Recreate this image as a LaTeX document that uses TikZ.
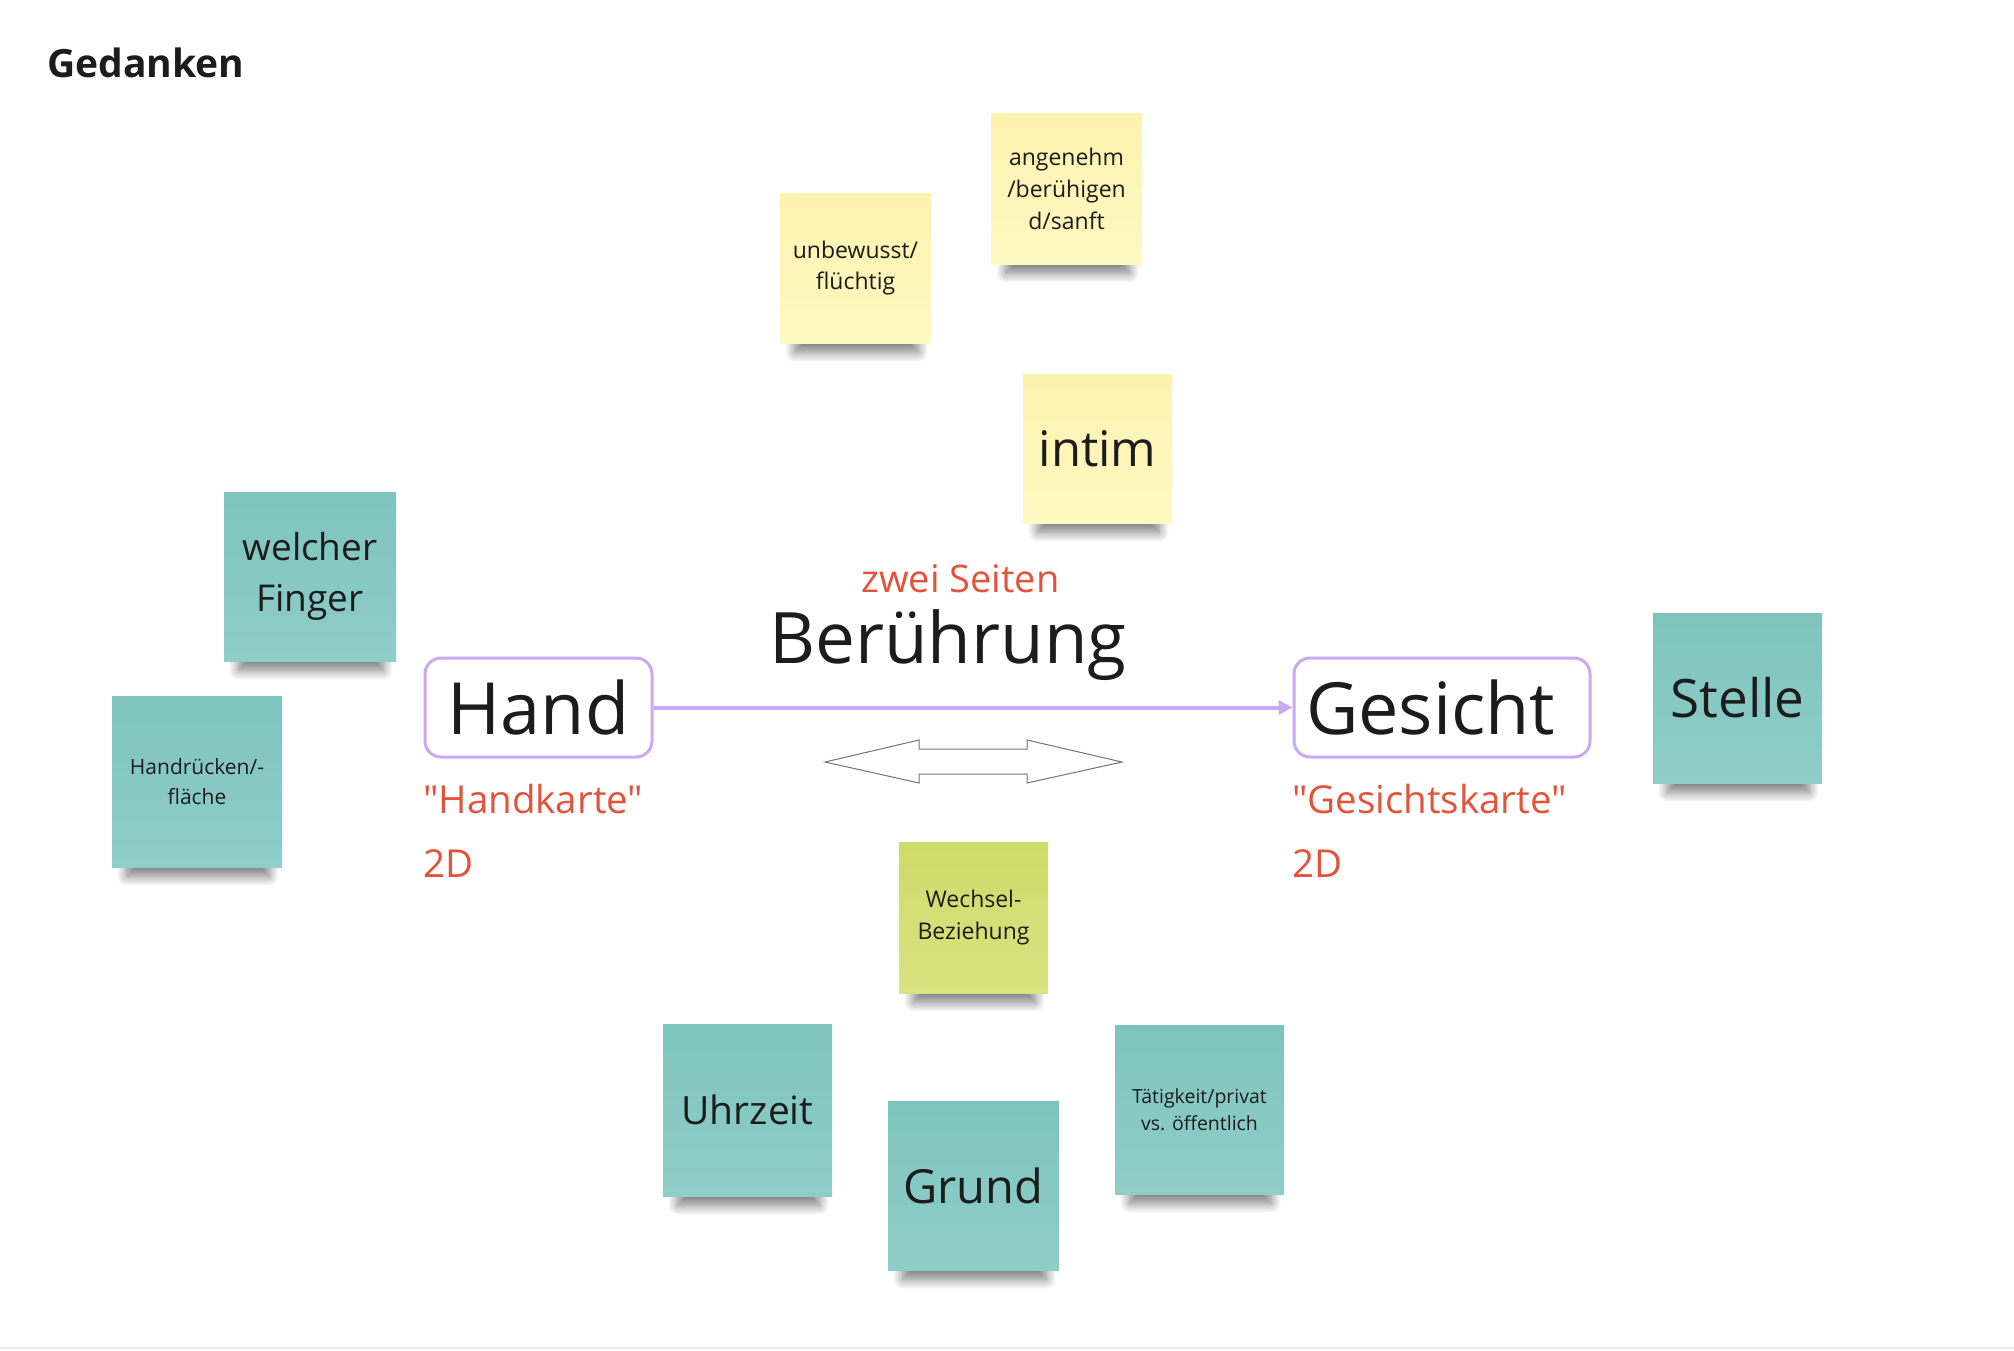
\documentclass[tikz,border=0pt]{standalone}
\usepackage{fontspec}
\defaultfontfeatures[\rmfamily]{}
\setmainfont{Open Sans}
\newfontfamily\nomap{Open Sans}
\usetikzlibrary{arrows.meta,shadows.blur}
\pgfdeclarelayer{bglayer}
\pgfdeclarelayer{shadowlayer}
\pgfsetlayers{bglayer,shadowlayer,main}
\definecolor{teal1}{HTML}{7EC4BD}
\definecolor{teal2}{HTML}{8FCDC8}
\definecolor{yel1}{HTML}{FCF3AE}
\definecolor{yel2}{HTML}{FEF8C2}
\definecolor{grn1}{HTML}{CDDB6A}
\definecolor{grn2}{HTML}{D7E480}
\definecolor{redtxt}{HTML}{E4523A}
\definecolor{lilac}{HTML}{C9A9F1}
\definecolor{ink}{HTML}{1C1C1C}
\newcommand\fsz[2]{\fontsize{#1}{#2}\selectfont}
\newcommand\notesh[1]{\path[shadowpath] ([xshift=15pt,yshift=-9pt]#1.south west) rectangle ([xshift=-13pt,yshift=40pt]#1.south east);}
\tikzset{
  note/.style={inner sep=0pt, align=center, text=ink},
  shadowpath/.style={blur shadow={shadow xshift=0pt, shadow yshift=0pt, shadow scale=1,
      shadow blur radius=10pt, shadow blur steps=14, shadow opacity=52}},
  tealnote/.style={note, top color=teal1, bottom color=teal2},
  yelnote/.style={note, top color=yel1, bottom color=yel2},
  grnnote/.style={note, top color=grn1, bottom color=grn2},
  mainbox/.style={draw=lilac, line width=3pt, rounded corners=16pt, fill=white,
    inner sep=0pt, text=ink, font=\fsz{72}{90}},
  redlabel/.style={anchor=base west, inner sep=0pt, text=redtxt, font=\nomap\fsz{38.5}{50}},
  conn/.style={draw=lilac, line width=4pt, -{Triangle[length=14pt,width=14pt]}},
}
\begin{document}
\begin{tikzpicture}[x=1pt,y=-1pt]
\begin{pgfonlayer}{bglayer}
\fill[white] (0,0) rectangle (2014,1350);
\end{pgfonlayer}
\useasboundingbox (0,0) rectangle (2014,1350);
\draw[draw=black!7, line width=2pt] (0,1348) -- (2014,1348);

\node[anchor=base west, inner sep=0pt, text=ink, font=\bfseries\fsz{39}{46}] (title) at (47,77) {Gedanken};

% yellow notes
\node[yelnote, minimum width=151pt, minimum height=150pt, font=\fsz{23}{31.5}] (unbew) at (855.5,268) {unbewusst/\\flüchtig};
\node[yelnote, minimum width=151pt, minimum height=151pt, font=\fsz{23}{32}] (angen) at (1066.5,188.5) {angenehm\\/berühigen\\d/sanft};
\node[yelnote, minimum width=149pt, minimum height=149pt, font=\fsz{49}{60}] (intim) at (1097.5,448.5) {intim};

% teal notes
\node[tealnote, minimum width=172pt, minimum height=169pt, font=\fsz{37}{51}] (finger) at (310,576.5) {welcher\\Finger};
\node[tealnote, minimum width=170pt, minimum height=171pt, font=\fsz{21}{30}] (handr) at (197,781.5) {Handrücken/-\\fläche};
\node[tealnote, minimum width=169pt, minimum height=170pt, font=\fsz{53}{66}] (stelle) at (1737.5,698) {Stelle};
\node[tealnote, minimum width=169pt, minimum height=172pt, font=\fsz{39}{50}] (uhr) at (747.5,1110) {Uhrzeit};
\node[tealnote, minimum width=171pt, minimum height=169pt, font=\fsz{47}{60}] (grund) at (973.5,1185.5) {Grund};
\node[tealnote, minimum width=169pt, minimum height=169pt, font=\fsz{19.5}{26.7}] (taet) at (1199.5,1109.5) {Tätigkeit/privat\\vs. öffentlich};

% green note
\node[grnnote, minimum width=149pt, minimum height=151pt, font=\fsz{23}{32}] (wechsel) at (973.5,917.5) {Wechsel-\\Beziehung};

\begin{pgfonlayer}{shadowlayer}
% hidden warm-up shadow, fully covered by the note "Stelle"
\path[blur shadow={shadow xshift=0pt, shadow yshift=0pt, shadow blur radius=5pt, shadow opacity=0}]
  ([xshift=-5pt,yshift=-5pt]stelle.center) rectangle ([xshift=5pt,yshift=5pt]stelle.center);
\notesh{unbew}\notesh{angen}\notesh{intim}\notesh{finger}\notesh{handr}
\notesh{stelle}\notesh{uhr}\notesh{grund}\notesh{taet}\notesh{wechsel}
\end{pgfonlayer}

% central texts
\node[anchor=base, inner sep=0pt, text=redtxt, font=\fsz{38}{46}] (zwei) at (960.5,592) {zwei Seiten};
\node[anchor=base, inner sep=0pt, text=ink, font=\fsz{71}{84}] (beruehrung) at (948,663) {Berührung};

% main boxes
\node[mainbox, minimum width=227pt, minimum height=99pt] (hand) at (538.5,707.5) {Hand};
\node[mainbox, minimum width=296pt, minimum height=99pt] (gesicht) at (1442,707.5) {\makebox[272pt][l]{Gesicht}};
\draw[conn] (hand.east) -- (gesicht.west);

% red labels
\node[redlabel] (handkarte) at (423,813) {"Handkarte"};
\node[redlabel] (hand2d) at (423,877) {2D};
\node[redlabel] (gesichtskarte) at (1292,813) {"Gesichtskarte"};
\node[redlabel] (gesicht2d) at (1292,877) {2D};

% double arrow outline
\draw[draw=black!55, line width=1pt, fill=white, line join=miter]
  (825,762) -- (919,740) -- (919,749) -- (1027,749) -- (1027,740) -- (1122,762)
  -- (1027,783) -- (1027,774) -- (919,774) -- (919,783) -- cycle;
\end{tikzpicture}
\end{document}
